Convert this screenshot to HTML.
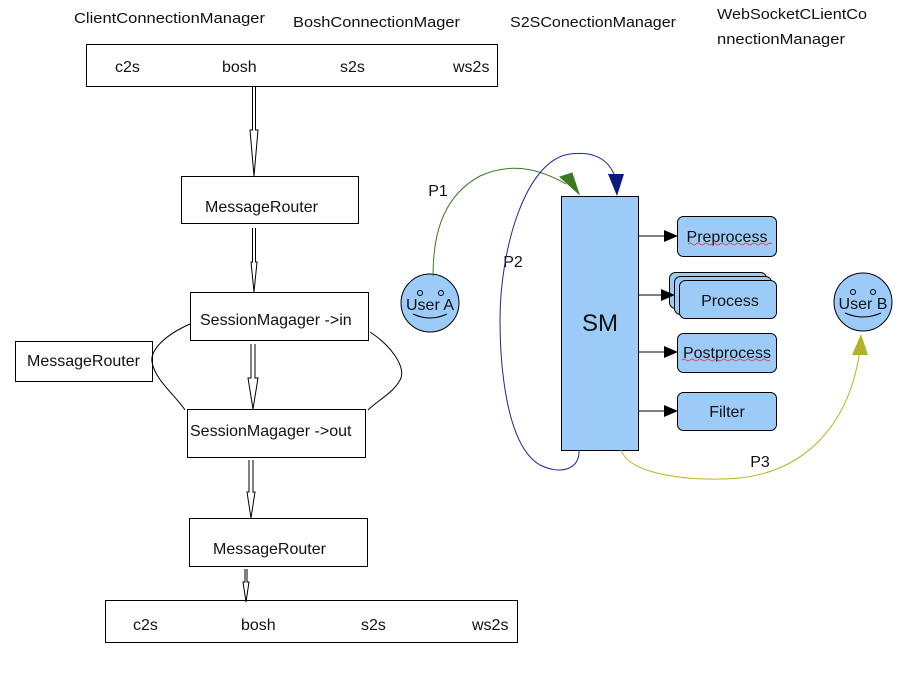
<!DOCTYPE html>
<html><head><meta charset="utf-8"><style>
html,body{margin:0;padding:0;background:#fff}
svg{display:block}
text{font-family:"Liberation Sans","DejaVu Sans",sans-serif;fill:#111}
</style></head><body>
<svg width="907" height="674" viewBox="0 0 907 674" xmlns="http://www.w3.org/2000/svg">
<defs>
<marker id="ab" markerWidth="14" markerHeight="12" refX="13" refY="6" orient="auto" markerUnits="userSpaceOnUse"><path d="M0,0 L14,6 L0,12 Z" fill="#000"/></marker>
</defs>
<g font-size="15">
<text x="74" y="23" textLength="191" lengthAdjust="spacingAndGlyphs">ClientConnectionManager</text>
<text x="293" y="27" textLength="167" lengthAdjust="spacingAndGlyphs">BoshConnectionMager</text>
<text x="510" y="27" textLength="166" lengthAdjust="spacingAndGlyphs">S2SConectionManager</text>
<text x="717" y="19" textLength="150" lengthAdjust="spacingAndGlyphs">WebSocketCLientCo</text>
<text x="717" y="44" textLength="128" lengthAdjust="spacingAndGlyphs">nnectionManager</text>
</g>
<g fill="none" stroke="#000" stroke-width="1">
<rect x="86.5" y="44.5" width="411" height="42"/>
<rect x="181.5" y="176.5" width="177" height="47"/>
<rect x="190.5" y="292.5" width="178" height="48"/>
<rect x="15.5" y="341.5" width="137" height="40"/>
<rect x="187.5" y="409.5" width="178" height="48"/>
<rect x="189.5" y="518.5" width="178" height="48"/>
<rect x="105.5" y="600.5" width="412" height="42"/>
<path d="M190,324 C165,335 150,350 152,362 C155,380 175,395 185,410"/>
<path d="M370,332 C390,345 405,365 401,378 C395,392 378,400 368,410"/>
</g>
<g font-size="16">
<text x="115" y="72">c2s</text><text x="222" y="72">bosh</text><text x="340" y="72">s2s</text><text x="453" y="72">ws2s</text>
<text x="205" y="212">MessageRouter</text>
<text x="200" y="325">SessionMagager  -&gt;in</text>
<text x="27" y="366">MessageRouter</text>
<text x="190" y="436">SessionMagager  -&gt;out</text>
<text x="213" y="554">MessageRouter</text>
<text x="133" y="630">c2s</text><text x="241" y="630">bosh</text><text x="361" y="630">s2s</text><text x="472" y="630">ws2s</text>
</g>
<g fill="#fff" stroke="#000" stroke-width="1">
<path d="M252.5,87 V130 L250,130 L254,176 L258,130 L255.5,130 V87"/>
<path d="M252.5,228 V262 L251,262 L254,292 L257,262 L255.5,262 V228"/>
<path d="M251,344 V378 L248,378 L253,409 L258,378 L255,378 V344"/>
<path d="M249,460 V492 L247,492 L251,518 L255,492 L253,492 V460"/>
<path d="M245,569 V582 L243,582 L246,602 L249,582 L247,582 V569"/>
</g>
<g stroke="#000" stroke-width="1" fill="#9ccbf7">
<rect x="561.5" y="196.5" width="77" height="254"/>
<rect x="677.5" y="216.5" width="99" height="40" rx="6"/>
<rect x="669.5" y="272.5" width="97" height="36" rx="6"/>
<rect x="674.5" y="276.5" width="97" height="38" rx="6"/>
<rect x="679.5" y="280.5" width="97" height="38" rx="6"/>
<rect x="677.5" y="333.5" width="99" height="39" rx="6"/>
<rect x="677.5" y="392.5" width="99" height="38" rx="6"/>
<circle cx="430" cy="303" r="29"/>
<circle cx="863" cy="302" r="29"/>
</g>
<g stroke="#000" stroke-width="1" marker-end="url(#ab)">
<line x1="638" y1="236" x2="677" y2="236"/>
<line x1="638" y1="295" x2="674" y2="295"/>
<line x1="638" y1="352" x2="677" y2="352"/>
<line x1="638" y1="411" x2="677" y2="411"/>
</g>
<g fill="none" stroke="#000" stroke-width="1">
<path d="M413,314 Q430,322 447,314"/>
<path d="M845,313 Q863,321 881,313"/>
<circle cx="420" cy="293" r="2.5"/><circle cx="441" cy="293" r="2.5"/>
<circle cx="853" cy="292" r="2.5"/><circle cx="873" cy="292" r="2.5"/>
</g>
<text x="600" y="331" font-size="24" text-anchor="middle">SM</text>
<g font-size="16" text-anchor="middle">
<text x="727" y="242">Preprocess</text>
<text x="730" y="306">Process</text>
<text x="727" y="358">Postprocess</text>
<text x="727" y="417">Filter</text>
<text x="430" y="310">User A</text>
<text x="863" y="309">User B</text>
<text x="438" y="196">P1</text>
<text x="513" y="267">P2</text>
<text x="760" y="467">P3</text>
</g>
<path d="M433,276 C433,230 445,195 480,176 C515,160 545,172 566,184" fill="none" stroke="#3c7a20"/>
<path d="M560,177 L572,173 L579,194 Z" fill="#3c7a20" stroke="#3c7a20"/>
<path d="M579,450 C580,470 560,475 540,465 C505,445 500,360 500,320 C500,250 525,160 570,154 C600,150 612,165 616,180" fill="none" stroke="#1a2a90"/>
<path d="M608,174 L624,174 L617,196 Z" fill="#0a1a80"/>
<path d="M621,450 C630,475 690,482 740,478 C810,470 850,420 860,350" fill="none" stroke="#b8b520"/>
<path d="M852,355 L868,355 L861,334 Z" fill="#b3b12a"/>
<path d="M688,244 q2,-2 4,0 t4,0 t4,0 t4,0 t4,0 t4,0 t4,0 t4,0 t4,0 t4,0 t4,0 t4,0 t4,0 t4,0 t4,0 t4,0 t4,0 t4,0 t4,0 t4,0 t4,0" fill="none" stroke="#e03030" stroke-width="0.8"/>
<path d="M682,360 q2,-2 4,0 t4,0 t4,0 t4,0 t4,0 t4,0 t4,0 t4,0 t4,0 t4,0 t4,0 t4,0 t4,0 t4,0 t4,0 t4,0 t4,0 t4,0 t4,0 t4,0 t4,0 t4,0" fill="none" stroke="#e03030" stroke-width="0.8"/>
</svg>
</body></html>
